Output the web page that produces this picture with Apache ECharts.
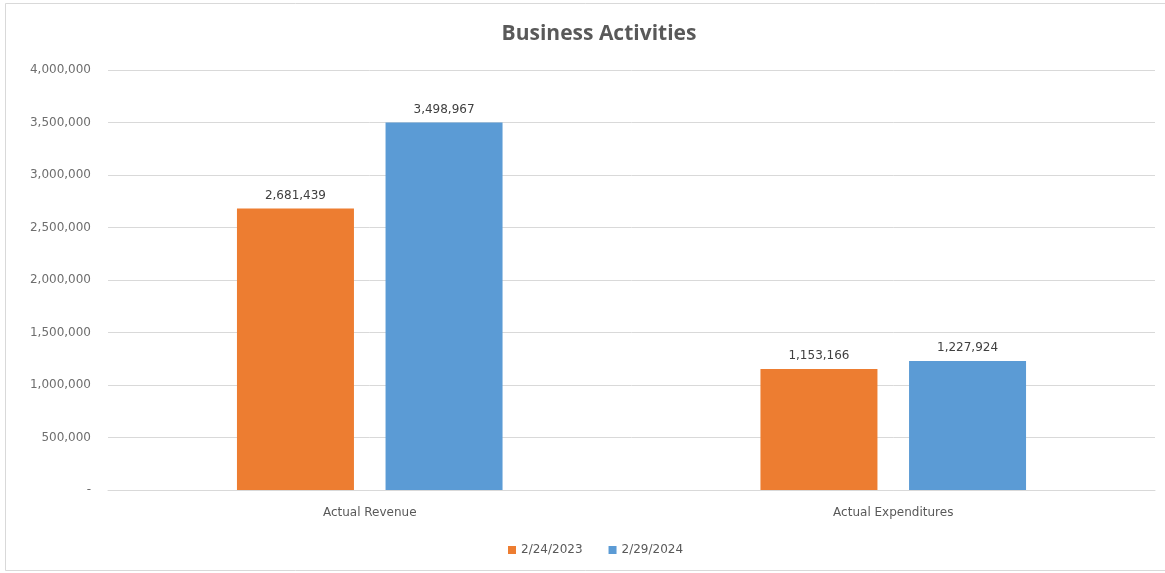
<!DOCTYPE html>
<html>
<head>
<meta charset="utf-8">
<script src="https://cdn.jsdelivr.net/npm/echarts@6/dist/echarts.min.js"></script>
<style>
  html, body { margin: 0; padding: 0; background: #ffffff; }
  #chart { width: 1165px; height: 573px; }
</style>
</head>
<body>
<div id="chart"></div>
<script>
// Chart data
const categories = ['Actual Revenue', 'Actual Expenditures'];
const seriesNames = ['2/24/2023', '2/29/2024'];
const values2023 = [2681439, 1153166];
const values2024 = [3498967, 1227924];
const yTicks = [0, 500000, 1000000, 1500000, 2000000, 2500000, 3000000, 3500000, 4000000];

const fmt = v => v === 0 ? '-' : v.toLocaleString('en-US');
const font = '"DejaVu Sans", "Liberation Sans", sans-serif';

const chart = echarts.init(document.getElementById('chart'), null, { renderer: 'canvas' });

const barLabel = {
  show: true, position: 'top', distance: 7,
  fontFamily: font, fontSize: 12, color: '#404040',
  formatter: p => fmt(p.value)
};

chart.setOption({
  backgroundColor: '#ffffff',
  animation: false,
  title: {
    text: 'Business Activities',
    left: 594,
    textAlign: 'center',
    top: 19,
    textStyle: { fontFamily: '"Open Sans", "Noto Sans", sans-serif', fontSize: 21, fontWeight: 'bold', color: '#595959' }
  },
  graphic: [{
    type: 'rect',
    shape: { x: 5.5, y: 3.5, width: 1165, height: 567 },
    style: { fill: 'none', stroke: '#d9d9d9', lineWidth: 1 },
    silent: true
  }],
  legend: {
    data: seriesNames,
    left: 503,
    top: 539,
    icon: 'rect',
    itemWidth: 8,
    itemHeight: 8,
    itemGap: 26,
    textStyle: { fontFamily: font, fontSize: 12, color: '#595959' }
  },
  grid: { left: 108, right: 10, top: 70, bottom: 83, containLabel: false },
  xAxis: {
    type: 'category',
    data: categories,
    axisLine: { lineStyle: { color: '#d9d9d9' } },
    axisTick: { show: false },
    axisLabel: { fontFamily: font, fontSize: 12, color: '#595959', margin: 17 }
  },
  yAxis: {
    type: 'value',
    min: yTicks[0],
    max: yTicks[yTicks.length - 1],
    interval: 500000,
    axisLine: { show: false },
    axisTick: { show: false },
    splitLine: { lineStyle: { color: '#d9d9d9' } },
    axisLabel: { fontFamily: font, fontSize: 12, color: '#6e6e6e', margin: 17, formatter: fmt }
  },
  series: [
    {
      name: seriesNames[0],
      type: 'bar',
      data: values2023,
      barWidth: 117,
      barGap: '27%',
      itemStyle: { color: '#ED7D31' },
      label: barLabel
    },
    {
      name: seriesNames[1],
      type: 'bar',
      data: values2024,
      barWidth: 117,
      barGap: '27%',
      itemStyle: { color: '#5B9BD5' },
      label: barLabel
    }
  ]
});
</script>
</body>
</html>
